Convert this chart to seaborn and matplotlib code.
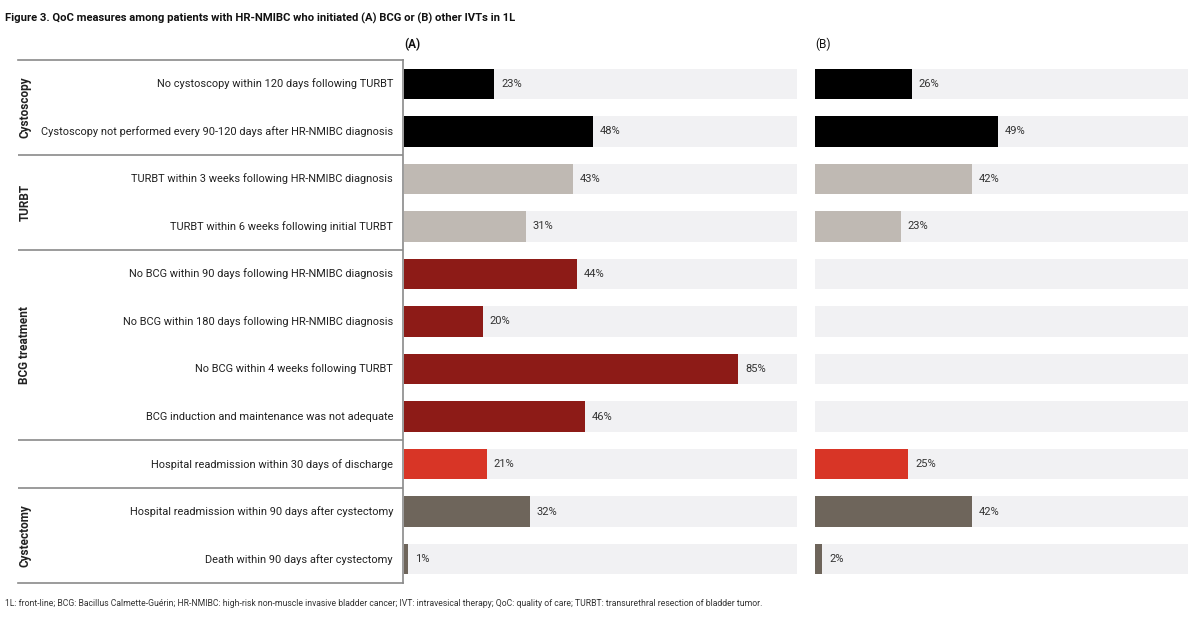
import numpy as np
import pandas as pd
import matplotlib
matplotlib.use("Agg")
import matplotlib.pyplot as plt
import seaborn as sns

# dane
measures = [
    "No cystoscopy within 120 days following TURBT",
    "Cystoscopy not performed every 90-120 days after HR-NMIBC diagnosis",
    "TURBT within 3 weeks following HR-NMIBC diagnosis",
    "TURBT within 6 weeks following initial TURBT",
    "No BCG within 90 days following HR-NMIBC diagnosis",
    "No BCG within 180 days following HR-NMIBC diagnosis",
    "No BCG within 4 weeks following TURBT",
    "BCG induction and maintenance was not adequate",
    "Hospital readmission within 30 days of discharge",
    "Hospital readmission within 90 days after cystectomy",
    "Death within 90 days after cystectomy",
]
pct_a = [23, 48, 43, 31, 44, 20, 85, 46, 21, 32, 1]
pct_b = [26, 49, 42, 23, np.nan, np.nan, np.nan, np.nan, 25, 42, 2]
bar_colors = ["#000000", "#000000", "#bfb9b3", "#bfb9b3",
              "#8d1b17", "#8d1b17", "#8d1b17", "#8d1b17",
              "#d83526", "#6e655b", "#6e655b"]
groups = [("Cystoscopy", 0, 1), ("TURBT", 2, 3), ("BCG treatment", 4, 7),
          ("", 8, 8), ("Cystectomy", 9, 10)]

title = "Figure 3. QoC measures among patients with HR-NMIBC who initiated (A) BCG or (B) other IVTs in 1L"
footnote = ("1L: front-line; BCG: Bacillus Calmette-Guérin; HR-NMIBC: high-risk non-muscle invasive "
            "bladder cancer; IVT: intravesical therapy; QoC: quality of care; TURBT: transurethral "
            "resection of bladder tumor.")

sns.set_style("white")
plt.rcParams["font.family"] = ["Roboto", "DejaVu Sans"]

W, H = 1200, 618
fig = plt.figure(figsize=(12, 6.18), dpi=100)

y_top, y_bot = 60, 583
bottom = 1 - y_bot / H
height = (y_bot - y_top) / H

df = pd.DataFrame({"measure": measures, "A": pct_a, "B": pct_b, "bg": 100})
palette = dict(zip(measures, bar_colors))


def draw_panel(ax, col, label, bold):
    sns.barplot(data=df, x="bg", y="measure", color="#f1f1f3", width=0.64,
                ax=ax, saturation=1, linewidth=0)
    sns.barplot(data=df, x=col, y="measure", hue="measure", palette=palette,
                width=0.64, ax=ax, legend=False, saturation=1, linewidth=0)
    for i, v in enumerate(df[col]):
        if np.isnan(v):
            continue
        ax.annotate(f"{v:.0f}%", (v, i), xytext=(5, 0), textcoords="offset points",
                    va="center", ha="left", fontsize=8, color="#333333")
    ax.set_xlim(0, 100)
    ax.set_ylim(len(measures) - 0.5, -0.5)
    ax.axis("off")
    ax.text(0, -0.68, label, transform=ax.get_yaxis_transform(), fontsize=8.5,
            fontweight="bold" if bold else "normal", va="bottom", ha="left",
            color="#111111")


ax_a = fig.add_axes([404 / W, bottom, (797 - 404) / W, height])
draw_panel(ax_a, "A", "(A)", True)
ax_b = fig.add_axes([815 / W, bottom, (1188 - 815) / W, height])
draw_panel(ax_b, "B", "(B)", False)

# lewa tabela z etykietami
ax_l = fig.add_axes([18 / W, bottom, (403 - 18) / W, height])
ax_l.set_xlim(0, 1)
ax_l.set_ylim(len(measures) - 0.5, -0.5)
ax_l.set_xticks([])
ax_l.set_yticks([])
ax_l.spines["left"].set_visible(False)
for side in ["top", "right", "bottom"]:
    ax_l.spines[side].set_color("#8a8a8a")
    ax_l.spines[side].set_linewidth(1.2)
ax_l.patch.set_alpha(0)

for i, m in enumerate(measures):
    ax_l.text((393 - 18) / (403 - 18), i, m, ha="right", va="center",
              fontsize=7.9, color="#222222")

for name, start, end in groups:
    if end < len(measures) - 1:
        ax_l.axhline(end + 0.5, color="#8a8a8a", lw=1.2)
    if name:
        ax_l.text((25 - 18) / (403 - 18), (start + end) / 2, name, rotation=90,
                  ha="center", va="center", fontsize=8.5, fontweight="bold",
                  color="#222222")

fig.text(5 / W, 1 - 18 / H, title, fontsize=8.1, fontweight="bold",
         va="center", ha="left", color="#111111")
fig.text(5 / W, 1 - 604 / H, footnote, fontsize=6.2, va="center", ha="left",
         color="#333333")

fig.savefig("out.png", dpi=100, facecolor="white")
